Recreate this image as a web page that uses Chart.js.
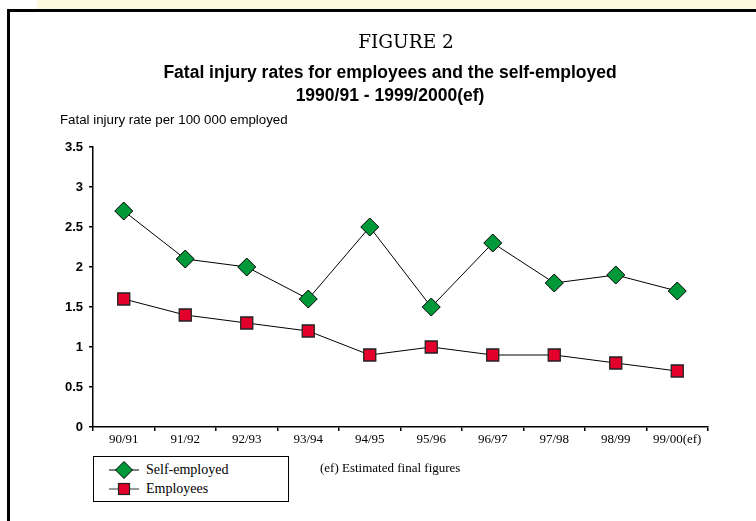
<!DOCTYPE html>
<html><head><meta charset="utf-8">
<script src="https://cdn.jsdelivr.net/npm/chart.js@4/dist/chart.umd.min.js"></script>
<style>
html,body{margin:0;padding:0;background:#fff;}
#page{position:relative;width:756px;height:521px;overflow:hidden;background:#fff;}
#band{position:absolute;left:37px;top:0;width:719px;height:9px;background:#FCF8DE;}
#frameTop{position:absolute;left:7px;top:9px;width:749px;height:3px;background:#000;}
#frameLeft{position:absolute;left:7px;top:9px;width:3px;height:512px;background:#000;}
#chart{position:absolute;left:0;top:0;}
.t{position:absolute;white-space:nowrap;color:#000;}
.c{transform:translateX(-50%);}
#legend{position:absolute;left:93px;top:456px;width:196px;height:46px;border:1px solid #000;box-sizing:border-box;background:#fff;}
.lrow{position:absolute;left:14px;width:170px;height:18px;font-family:"Liberation Serif",serif;font-size:14px;line-height:18px;white-space:nowrap;}
.lrow svg{position:absolute;left:0;top:0;}
.lrow span{position:absolute;left:38px;top:0;white-space:nowrap;}
</style></head>
<body><div id="page">
<div id="band"></div>
<div id="frameTop"></div>
<div id="frameLeft"></div>
<canvas id="chart" width="756" height="521"></canvas>
<div class="t c" id="fig" style="left:406px;top:31px;font-family:'DejaVu Serif',serif;font-size:18.5px;line-height:22px;">FIGURE 2</div>
<div class="t c" style="left:390px;top:62px;font-family:'Liberation Sans',Arial,sans-serif;font-weight:bold;font-size:17.5px;line-height:20px;">Fatal injury rates for employees and the self-employed</div>
<div class="t c" style="left:390px;top:85px;font-family:'Liberation Sans',Arial,sans-serif;font-weight:bold;font-size:17.5px;line-height:20px;">1990/91 - 1999/2000(ef)</div>
<div class="t" style="left:60px;top:112px;font-family:'Liberation Sans',Arial,sans-serif;font-size:13.3px;line-height:16px;">Fatal injury rate per 100 000 employed</div>
<div id="legend">
  <div class="lrow" style="top:4px;"><svg width="36" height="18"><line x1="1" y1="9" x2="31" y2="9" stroke="#000" stroke-width="1"/><polygon points="16,0.5 24.5,9 16,17.5 7.5,9" fill="#00993A" stroke="#000" stroke-width="1"/></svg><span>Self-employed</span></div>
  <div class="lrow" style="top:23px;"><svg width="36" height="18"><line x1="1" y1="9" x2="31" y2="9" stroke="#333" stroke-width="1"/><rect x="10.5" y="3.5" width="11" height="11" fill="#E3002A" stroke="#222" stroke-width="1.2"/></svg><span>Employees</span></div>
</div>
<div class="t" style="left:320px;top:460px;font-family:'Liberation Serif',serif;font-size:13px;line-height:16px;">(ef) Estimated final figures</div>
</div>
<script>
const categories = ['90/91','91/92','92/93','93/94','94/95','95/96','96/97','97/98','98/99','99/00(ef)'];
const selfEmployed = [2.7, 2.1, 2.0, 1.6, 2.5, 1.5, 2.3, 1.8, 1.9, 1.7];
const employees = [1.6, 1.4, 1.3, 1.2, 0.9, 1.0, 0.9, 0.9, 0.8, 0.7];
const yTickValues = [0, 0.5, 1, 1.5, 2, 2.5, 3, 3.5];

new Chart(document.getElementById('chart'), {
  type: 'line',
  data: {
    labels: categories,
    datasets: [
      {
        label: 'Self-employed',
        data: selfEmployed,
        borderColor: '#000',
        borderWidth: 1,
        pointStyle: 'rectRot',
        pointRadius: 9,
        pointBackgroundColor: '#00993A',
        pointBorderColor: '#000',
        pointBorderWidth: 1,
        tension: 0,
        clip: false
      },
      {
        label: 'Employees',
        data: employees,
        borderColor: '#000',
        borderWidth: 1,
        pointStyle: 'rect',
        pointRadius: 8.5,
        pointBackgroundColor: '#E3002A',
        pointBorderColor: '#222',
        pointBorderWidth: 1.3,
        tension: 0,
        clip: false
      }
    ]
  },
  options: {
    responsive: false,
    animation: false,
    devicePixelRatio: 1,
    layout: { padding: { left: 33, top: 147, right: 48, bottom: 64 } },
    plugins: { legend: { display: false }, tooltip: { enabled: false }, title: { display: false } },
    scales: {
      x: {
        type: 'category',
        offset: true,
        afterFit: s => { s.height = 30; },
        border: { display: true, color: '#000', width: 1.5 },
        grid: { display: true, drawOnChartArea: false, drawTicks: true, tickLength: 4, tickColor: '#000', offset: true, lineWidth: 1.5 },
        ticks: { color: '#000', maxRotation: 0, autoSkip: false, padding: 1, font: { family: 'Liberation Serif', size: 13 } }
      },
      y: {
        min: 0,
        max: 3.5,
        afterFit: s => { s.width = 60; },
        afterBuildTicks: s => { s.ticks = yTickValues.map(v => ({ value: v })); },
        border: { display: true, color: '#000', width: 1.5 },
        grid: { display: true, drawOnChartArea: false, drawTicks: true, tickLength: 4, tickColor: '#000', lineWidth: 1.5 },
        ticks: { color: '#000', padding: 6, font: { family: 'Liberation Sans', size: 13, weight: 'bold' }, callback: v => String(v) }
      }
    }
  }
});
</script>
</body></html>
